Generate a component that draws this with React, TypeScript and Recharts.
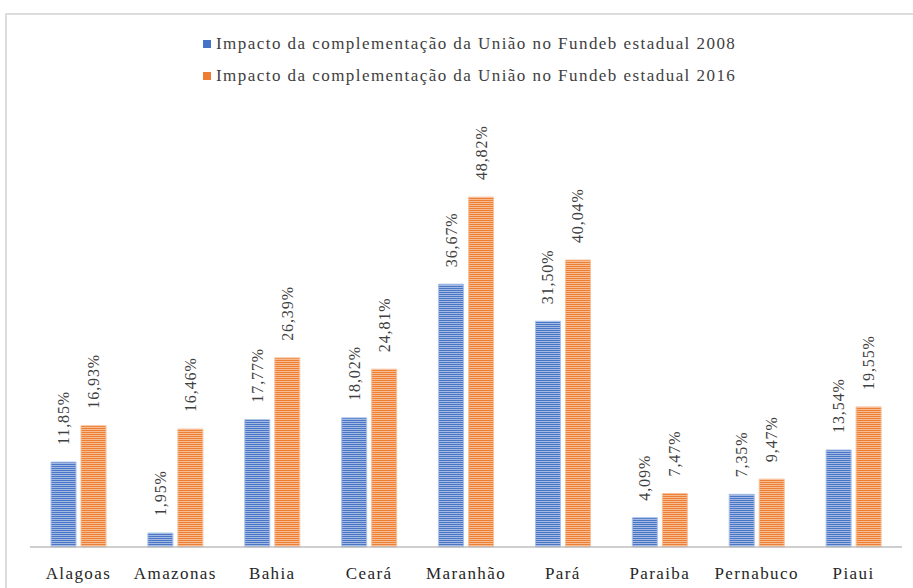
import React from "react";
import { BarChart, Bar, XAxis, YAxis, Legend, LabelList } from "recharts";

const categories = ["Alagoas", "Amazonas", "Bahia", "Ceará", "Maranhão", "Pará", "Paraiba", "Pernabuco", "Piaui"];
const impacto2008 = [11.85, 1.95, 17.77, 18.02, 36.67, 31.5, 4.09, 7.35, 13.54];
const impacto2016 = [16.93, 16.46, 26.39, 24.81, 48.82, 40.04, 7.47, 9.47, 19.55];
const seriesNames = [
  "Impacto da complementação da União no Fundeb estadual 2008",
  "Impacto da complementação da União no Fundeb estadual 2016",
];
const colors = ["#4472C4", "#ED7D31"];

const data = categories.map((c, i) => ({ name: c, s2008: impacto2008[i], s2016: impacto2016[i] }));

const FONT = '"Liberation Serif", "Times New Roman", serif';

const fmt = (v: number) => v.toFixed(2).replace(".", ",") + "%";

const RotLabel = (props: any) => {
  const { x, y, width, value } = props;
  const cx = Number(x) + Number(width) / 2;
  const cy = Number(y) - 17;
  return (
    <text
      transform={`translate(${cx}, ${cy}) rotate(-90)`}
      textAnchor="start"
      dominantBaseline="central"
      style={{ fontFamily: FONT }}
      fontSize={16}
      letterSpacing={0.9}
      fill="#404040"
    >
      {fmt(value)}
    </text>
  );
};

const LegendContent = () => (
  <div style={{ height: 89, paddingLeft: 203, fontFamily: FONT, fontSize: 17, color: "#404040", letterSpacing: 1.45 }}>
    {seriesNames.map((n, i) => (
      <div key={n} style={{ display: "flex", alignItems: "center", height: 32, marginTop: i === 0 ? 3 : 0 }}>
        <span style={{ display: "inline-block", width: 8, height: 8, background: colors[i], marginRight: 5 }} />
        <span>{n}</span>
      </div>
    ))}
  </div>
);

export default function App() {
  return (
    <div style={{ position: "absolute", left: 0, top: 0, width: 913, height: 588, background: "#fff", overflow: "hidden" }}>
      <div style={{ position: "absolute", left: 5, top: 13, width: 940, height: 620, border: "2px solid #dcdcdc" }} />
      <BarChart
        width={913}
        height={588}
        data={data}
        margin={{ top: 25, right: 11, bottom: 0, left: 30 }}
        barGap={5}
        barSize={25}
      >
        <defs>
          <pattern id="stripeBlue" width="4" height="2" patternUnits="userSpaceOnUse">
            <rect width="4" height="2" fill="#4a76c6" />
            <rect y="1" width="4" height="1" fill="#a3b8e2" />
          </pattern>
          <pattern id="stripeOrange" width="4" height="2" patternUnits="userSpaceOnUse">
            <rect width="4" height="2" fill="#ee8036" />
            <rect y="1" width="4" height="1" fill="#f7bb92" />
          </pattern>
        </defs>
        <Legend verticalAlign="top" content={<LegendContent />} wrapperStyle={{ top: 25, left: 0, width: 913 }} />
        <XAxis
          dataKey="name"
          tickLine={false}
          axisLine={{ stroke: "#bfbfbf", strokeWidth: 1.5 }}
          height={41}
          tickMargin={14}
          interval={0}
          tick={{ fontFamily: FONT, fontSize: 17, fill: "#262626", letterSpacing: 1.4 }}
        />
        <YAxis hide domain={[0, 60]} />
        <Bar dataKey="s2008" name={seriesNames[0]} fill="url(#stripeBlue)" stroke="#a9c0e8" strokeWidth={1} isAnimationActive={false}>
          <LabelList dataKey="s2008" content={<RotLabel />} />
        </Bar>
        <Bar dataKey="s2016" name={seriesNames[1]} fill="url(#stripeOrange)" stroke="#f7c09b" strokeWidth={1} isAnimationActive={false}>
          <LabelList dataKey="s2016" content={<RotLabel />} />
        </Bar>
      </BarChart>
    </div>
  );
}
